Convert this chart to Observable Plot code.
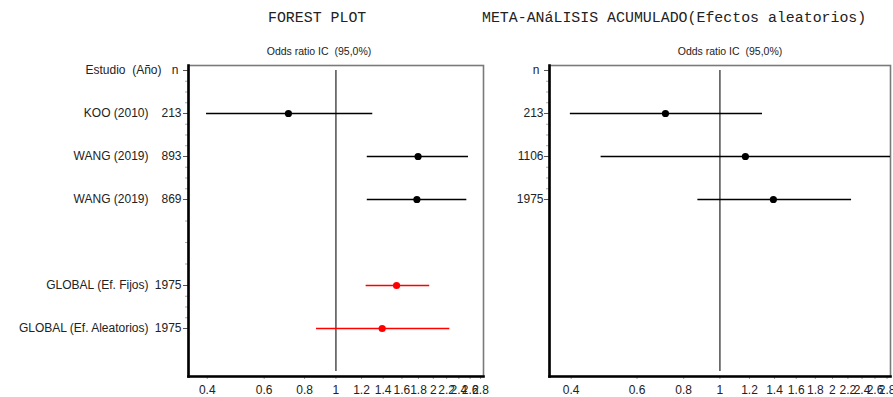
<!DOCTYPE html>
<html>
<head>
<meta charset="utf-8">
<script src="https://cdn.jsdelivr.net/npm/d3@7"></script>
<script src="https://cdn.jsdelivr.net/npm/@observablehq/plot@0.6"></script>
<style>
  body { margin: 0; background: #fff; }
  #wrap { position: relative; width: 893px; height: 397px; overflow: hidden; font-family: Arial, "Liberation Sans", sans-serif; }
  #wrap svg { position: absolute; top: 0; }
  .ttl { position: absolute; font-family: "Liberation Mono", "Courier New", monospace; font-size: 14.9px; color: #222; white-space: pre; line-height: 1; z-index: 2; }
  .sub { position: absolute; font-size: 10.5px; color: #222; white-space: pre; line-height: 1; z-index: 2; transform: translateX(-50%); }
</style>
</head>
<body>
<div id="wrap">
  <div class="ttl" style="left:268px; top:11px;">FOREST PLOT</div>
  <div class="ttl" style="left:482px; top:11px;">META-ANáLISIS ACUMULADO(Efectos aleatorios)</div>
  <div class="sub" style="left:319px; top:46px;">Odds ratio IC  (95,0%)</div>
  <div class="sub" style="left:730px; top:46px;">Odds ratio IC  (95,0%)</div>
</div>
<script>
// ---- data ----
const studyLabels = ["KOO (2010)", "WANG (2019)", "WANG (2019)", "GLOBAL (Ef. Fijos)", "GLOBAL (Ef. Aleatorios)"];
const studyN      = [213, 893, 869, 1975, 1975];
const studyRow    = [1, 2, 3, 5, 6];
const studyKind   = ["study", "study", "study", "pooled", "pooled"];
const studyOR     = [0.713, 1.795, 1.78, 1.54, 1.39];
const studyLo     = [0.398, 1.25, 1.25, 1.24, 0.871];
const studyHi     = [1.30, 2.57, 2.54, 1.95, 2.25];

const cumN   = [213, 1106, 1975];
const cumRow = [1, 2, 3];
const cumOR  = [0.715, 1.17, 1.39];
const cumLo  = [0.398, 0.481, 0.873];
const cumHi  = [1.30, 3.2, 2.25];

const xTicks = [0.4, 0.6, 0.8, 1, 1.2, 1.4, 1.6, 1.8, 2, 2.2, 2.4, 2.6, 2.8];
const xDomain = [0.35, 2.86];
const refOR = 1;
const headerLabel = "Estudio  (Año)";
const headerN = "n";
const nRows = 8;

// ---- tables ----
const studies = studyLabels.map((s, i) => ({label: s, n: studyN[i], row: studyRow[i], kind: studyKind[i], or: studyOR[i], lo: studyLo[i], hi: studyHi[i]}));
const cum = cumN.map((n, i) => ({n, row: cumRow[i], or: cumOR[i], lo: cumLo[i], hi: cumHi[i]}));
const yPad = 0.116;
const colorOf = d => d.kind === "pooled" ? "#ff0000" : "#000";

// tick positions along the row axis
const leftMajor = [0, ...studyRow];
const leftMinor = [
  ...d3.range(0, 13).map(k => k / 4),          // rows 0..3 by quarters
  3.5, 4, 4.5,                                   // gap rows by halves
  ...d3.range(20, 25).map(k => k / 4)           // rows 5..6 by quarters
];
const rightMajor = [0, ...cumRow];
const rightMinor = d3.range(0, 13).map(k => k / 4);

function commonMarks(major, minor) {
  return [
    Plot.axisY({ticks: minor, tickSize: 3, stroke: "#aaa", tickFormat: () => "", label: null}),
    Plot.axisY({ticks: major, tickSize: 5, stroke: "#555", tickFormat: () => "", label: null}),
    Plot.axisX({ticks: xTicks, tickSize: 3, stroke: "#999", tickPadding: 6, fontSize: 12, fill: "#222", tickFormat: d3.format("~g"), label: null}),
    Plot.ruleX([refOR], {y1: 0, y2: nRows - 1, stroke: "#333", strokeWidth: 1.3}),
    Plot.frame({stroke: "#7a7a7a", strokeWidth: 1.6}),
    Plot.frame({anchor: "left", stroke: "#000", strokeWidth: 2.6}),
    Plot.frame({anchor: "bottom", stroke: "#000", strokeWidth: 2.6})
  ];
}

const baseStyle = {fontFamily: "Arial, 'Liberation Sans', sans-serif", fontSize: "12px", color: "#222", background: "transparent", overflow: "visible"};

const left = Plot.plot({
  width: 488, height: 397,
  marginLeft: 188, marginRight: 5, marginTop: 65, marginBottom: 21,
  style: baseStyle,
  x: {type: "log", domain: xDomain},
  y: {domain: [-yPad, nRows - 1 + yPad], reverse: true},
  marks: [
    ...commonMarks(leftMajor, leftMinor),
    Plot.ruleY(studies, {y: "row", x1: "lo", x2: "hi", stroke: colorOf, strokeWidth: 1.3, clip: true}),
    Plot.dot(studies, {y: "row", x: "or", r: 3.6, fill: colorOf, stroke: "none"}),
    Plot.text(studies, {y: "row", text: "label", frameAnchor: "left", dx: -40, textAnchor: "end", fontSize: 12, fill: "#222"}),
    Plot.text(studies, {y: "row", text: d => String(d.n), frameAnchor: "left", dx: -7, textAnchor: "end", fontSize: 12, fill: "#222"}),
    Plot.text([headerLabel], {y: 0, text: d => d, frameAnchor: "left", dx: -27, textAnchor: "end", fontSize: 12, fill: "#222"}),
    Plot.text([headerN], {y: 0, text: d => d, frameAnchor: "left", dx: -10, textAnchor: "end", fontSize: 12, fill: "#222"})
  ]
});
left.style.left = "0px";

const right = Plot.plot({
  width: 405, height: 397,
  marginLeft: 61, marginRight: 3, marginTop: 65, marginBottom: 21,
  style: baseStyle,
  x: {type: "log", domain: xDomain},
  y: {domain: [-yPad, nRows - 1 + yPad], reverse: true},
  marks: [
    ...commonMarks(rightMajor, rightMinor),
    Plot.ruleY(cum, {y: "row", x1: "lo", x2: "hi", stroke: "#000", strokeWidth: 1.3, clip: true}),
    Plot.dot(cum, {y: "row", x: "or", r: 3.6, fill: "#000", stroke: "none"}),
    Plot.text(cum, {y: "row", text: d => String(d.n), frameAnchor: "left", dx: -6, textAnchor: "end", fontSize: 12, fill: "#222"}),
    Plot.text([headerN], {y: 0, text: d => d, frameAnchor: "left", dx: -10, textAnchor: "end", fontSize: 12, fill: "#222"})
  ]
});
right.style.left = "488px";

const wrap = document.getElementById("wrap");
wrap.appendChild(left);
wrap.appendChild(right);
</script>
</body>
</html>
